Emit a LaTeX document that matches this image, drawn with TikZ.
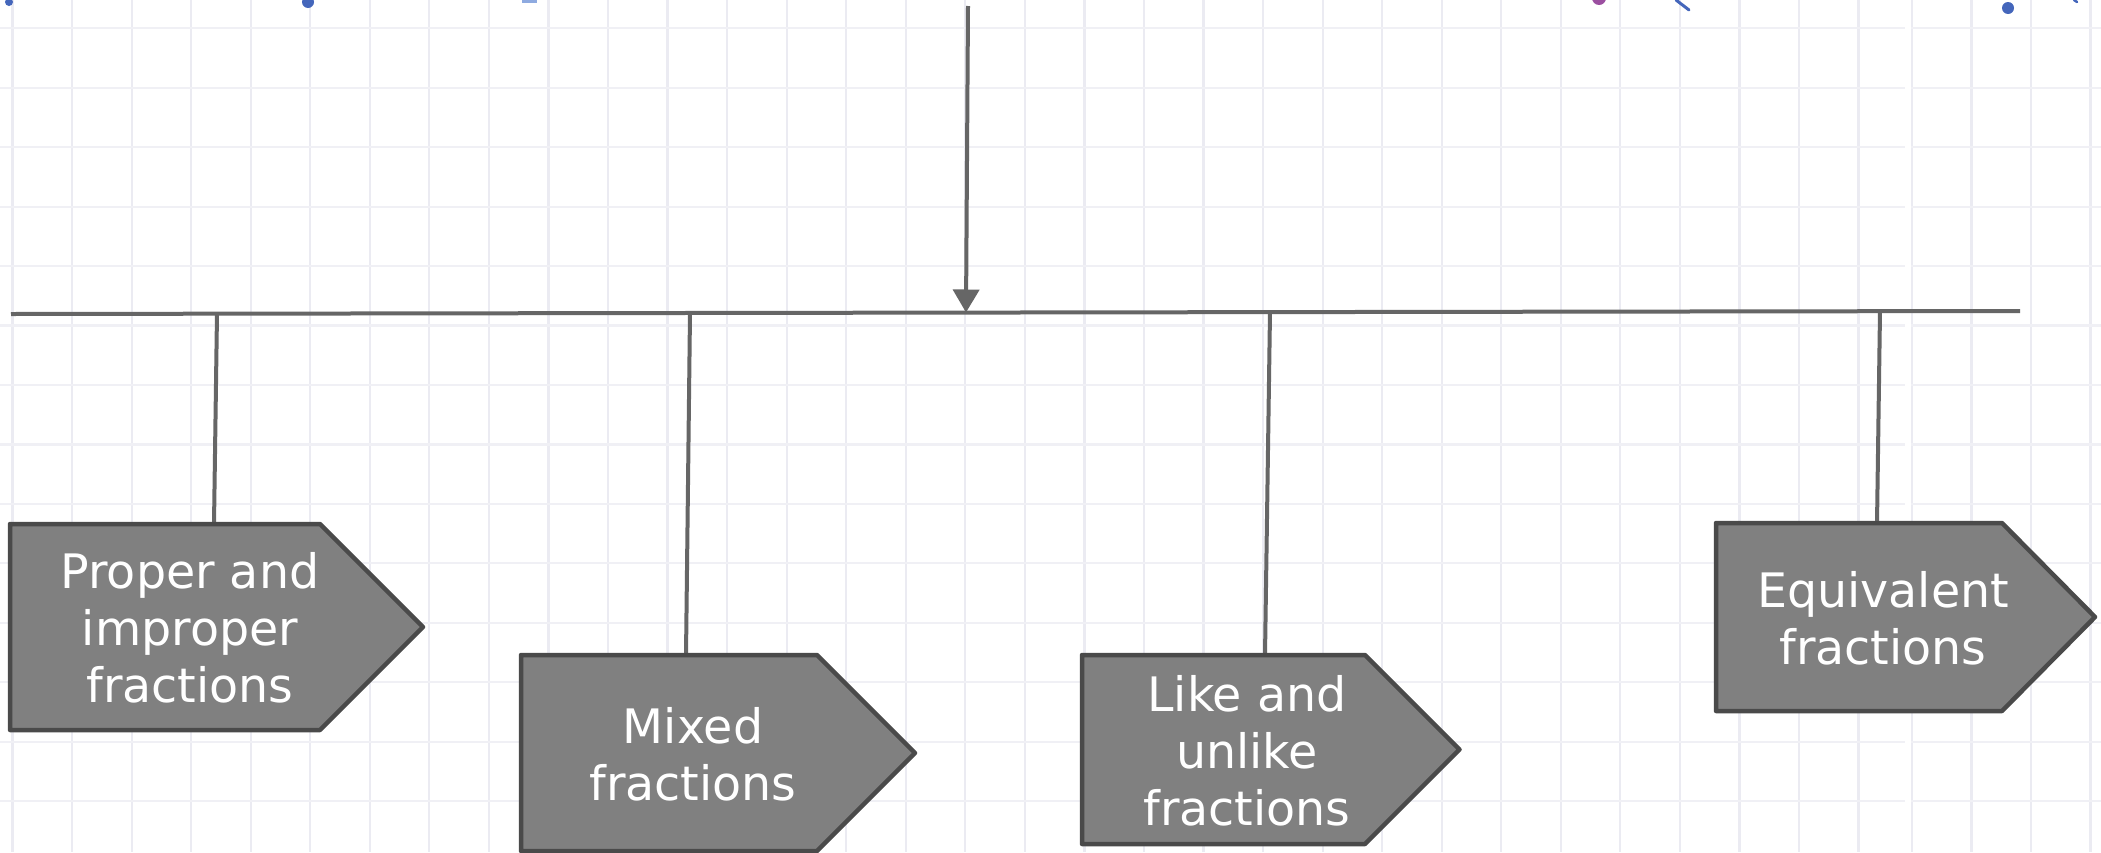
\documentclass[tikz,border=0pt]{standalone}
\usepackage{fontspec}
\setmainfont{DejaVu Sans}
\usetikzlibrary{arrows.meta}
\definecolor{gridv}{HTML}{EBEBF2}
\definecolor{gridh}{HTML}{F0F0F5}
\definecolor{conn}{HTML}{666666}
\definecolor{boxfill}{HTML}{808080}
\definecolor{boxedge}{HTML}{4A4A4A}
\definecolor{dotblue}{HTML}{4466BB}
\definecolor{lightblue}{HTML}{8EAAE0}
\definecolor{dotpurple}{HTML}{9B4FA0}
\tikzset{
  gridvline/.style={draw=gridv, line width=2.2pt},
  gridhline/.style={draw=gridh, line width=2.2pt},
  connector/.style={draw=conn, line width=4pt},
  fracbox/.style={fill=boxfill, draw=boxedge, line width=4.5pt, line join=round},
  fractext/.style={text=white, align=center, inner sep=0pt, font=\fontsize{47.5}{57}\selectfont},
}
\begin{document}
\begin{tikzpicture}[x=1pt,y=-1pt]
\useasboundingbox (0,0) rectangle (2101,852);
\fill[white] (0,0) rectangle (2101,852);
% background grid
\foreach \k in {0,...,31} { \draw[gridvline] ({12.5+59.55*\k},0) -- ({12.5+59.55*\k},852); }
\foreach \k in {0,...,3} { \draw[gridvline] ({1912+59.5*\k},0) -- ({1912+59.5*\k},852); }
\foreach \k in {0,...,13} {
  \draw[gridhline] (0,{28.3+59.45*\k}) -- (1905,{28.3+59.45*\k});
  \draw[gridhline] (1911,{28.3+59.45*\k}) -- (2101,{28.3+59.45*\k});
}
% fragments at the top edge
\fill[dotblue] (9,2) circle (4);
\fill[dotblue] (308,2) circle (6);
\fill[lightblue] (522,0) rectangle (537,2.5);
\fill[dotpurple] (1599,-2) circle (7);
\draw[dotblue, line width=3pt, line cap=round] (1676,0) -- (1689,10);
\fill[dotblue] (2008,8) circle (6);
\draw[dotblue, line width=2.5pt, line cap=round] (2074,0) -- (2077,2);
% coordinates
\coordinate (src) at (968,6);
\coordinate (hub) at (966,312.5);
\coordinate (busL) at (11,314);
\coordinate (busR) at (2020,311);
\coordinate (j1) at (217,313.7);
\coordinate (j2) at (690,313);
\coordinate (j3) at (1270,312.1);
\coordinate (j4) at (1880,311.2);
\coordinate (t1) at (214,524);
\coordinate (t2) at (686,655);
\coordinate (t3) at (1265,655);
\coordinate (t4) at (1877,523);
% bus and arrow
\draw[connector] (busL) -- (busR);
\draw[connector, -{Triangle[width=26pt,length=23pt]}] (src) -- (hub);
\draw[connector] (j1) -- (t1);
\draw[connector] (j2) -- (t2);
\draw[connector] (j3) -- (t3);
\draw[connector] (j4) -- (t4);
% boxes
\draw[fracbox] (10,524) -- (320,524) -- (423,627) -- (320,730) -- (10,730) -- cycle;
\draw[fracbox] (521,655) -- (817,655) -- (915,753) -- (817,851) -- (521,851) -- cycle;
\draw[fracbox] (1082,655) -- (1365,655) -- (1459.5,749.5) -- (1365,844) -- (1082,844) -- cycle;
\draw[fracbox] (1716,523) -- (2002,523) -- (2095,617) -- (2002,711) -- (1716,711) -- cycle;
% labels
\node[fractext] (proper) at (190,628) {Proper and\\improper\\fractions};
\node[fractext] (mixed) at (693,754) {Mixed\\fractions};
\node[fractext] (like) at (1247,751) {Like and\\unlike\\fractions};
\node[fractext] (equiv) at (1883,618) {Equivalent\\fractions};
\end{tikzpicture}
\end{document}
